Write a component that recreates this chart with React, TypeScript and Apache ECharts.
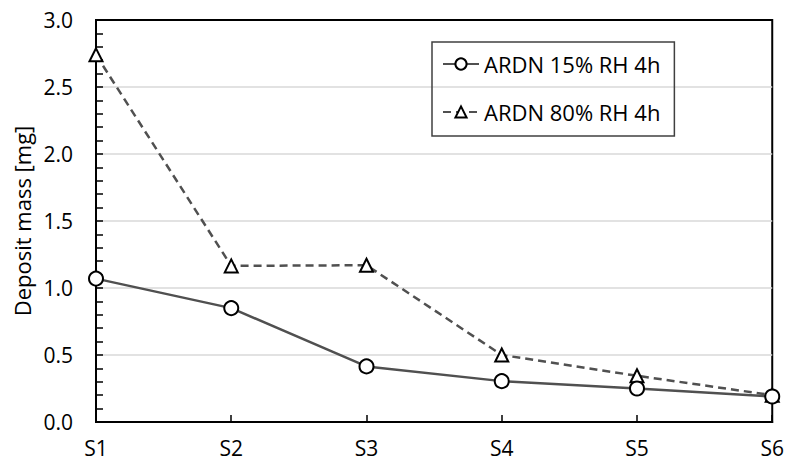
import React, { useEffect, useRef } from "react";
import * as echarts from "echarts";

const categories = ["S1", "S2", "S3", "S4", "S5", "S6"];
const rh15 = [1.07, 0.85, 0.415, 0.305, 0.25, 0.19];
const rh80 = [2.74, 1.165, 1.17, 0.5, 0.345, 0.2];
const seriesNames = ["ARDN 15% RH 4h", "ARDN 80% RH 4h"];
const yTicks = { min: 0, max: 3, interval: 0.5 };

const FONT = "Open Sans";

export default function App() {
  const ref = useRef<HTMLDivElement>(null);
  useEffect(() => {
    if (!ref.current) return;
    const chart = echarts.init(ref.current, undefined, { renderer: "svg" });
    chart.setOption({
      animation: false,
      backgroundColor: "#fff",
      grid: {
        left: 96,
        right: 13,
        top: 20,
        bottom: 44,
        show: true,
        borderColor: "#000",
        borderWidth: 2,
      },
      legend: {
        orient: "vertical",
        left: 432,
        top: 42,
        padding: [11, 14, 13, 10],
        itemGap: 26,
        itemWidth: 36,
        itemHeight: 14,
        borderColor: "#404040",
        borderWidth: 1.5,
        textStyle: { fontFamily: FONT, fontSize: 22, color: "#000" },
        data: seriesNames,
      },
      xAxis: {
        type: "category",
        data: categories,
        boundaryGap: false,
        axisLine: { lineStyle: { color: "#000", width: 2 } },
        axisTick: { inside: true, length: 7, lineStyle: { color: "#000", width: 1.5 } },
        axisLabel: { fontFamily: FONT, fontSize: 21, color: "#000", margin: 15 },
        splitLine: { show: false },
      },
      yAxis: {
        type: "value",
        min: yTicks.min,
        max: yTicks.max,
        interval: yTicks.interval,
        name: "Deposit mass [mg]",
        nameLocation: "middle",
        nameGap: 61,
        nameTextStyle: { fontFamily: FONT, fontSize: 22, color: "#000" },
        axisLine: { show: true, lineStyle: { color: "#000", width: 2 } },
        axisTick: { show: true, inside: true, length: 7, lineStyle: { color: "#000", width: 1.5 } },
        minorTick: { show: true, splitNumber: 5, length: 7, lineStyle: { color: "#000", width: 1.5 } },
        axisLabel: {
          fontFamily: FONT,
          fontSize: 21,
          color: "#000",
          margin: 23,
          formatter: (v: number) => v.toFixed(1),
        },
        splitLine: { show: true, showMaxLine: false, lineStyle: { color: "#d9d9d9", width: 1.5 } },
      },
      series: [
        {
          name: seriesNames[0],
          type: "line",
          data: rh15,
          symbol: "circle",
          symbolSize: 14,
          z: 3,
          lineStyle: { color: "#505050", width: 2.5 },
          itemStyle: { color: "#fff", borderColor: "#000", borderWidth: 2 },
        },
        {
          name: seriesNames[1],
          type: "line",
          data: rh80,
          symbol: "triangle",
          symbolSize: 13,
          z: 2,
          lineStyle: { color: "#505050", width: 2.5, type: [8, 5] },
          itemStyle: { color: "#fff", borderColor: "#000", borderWidth: 2 },
        },
      ],
    });
    return () => chart.dispose();
  }, []);
  return (
    <div
      ref={ref}
      style={{ position: "fixed", left: 0, top: 0, width: 787, height: 466 }}
    />
  );
}
